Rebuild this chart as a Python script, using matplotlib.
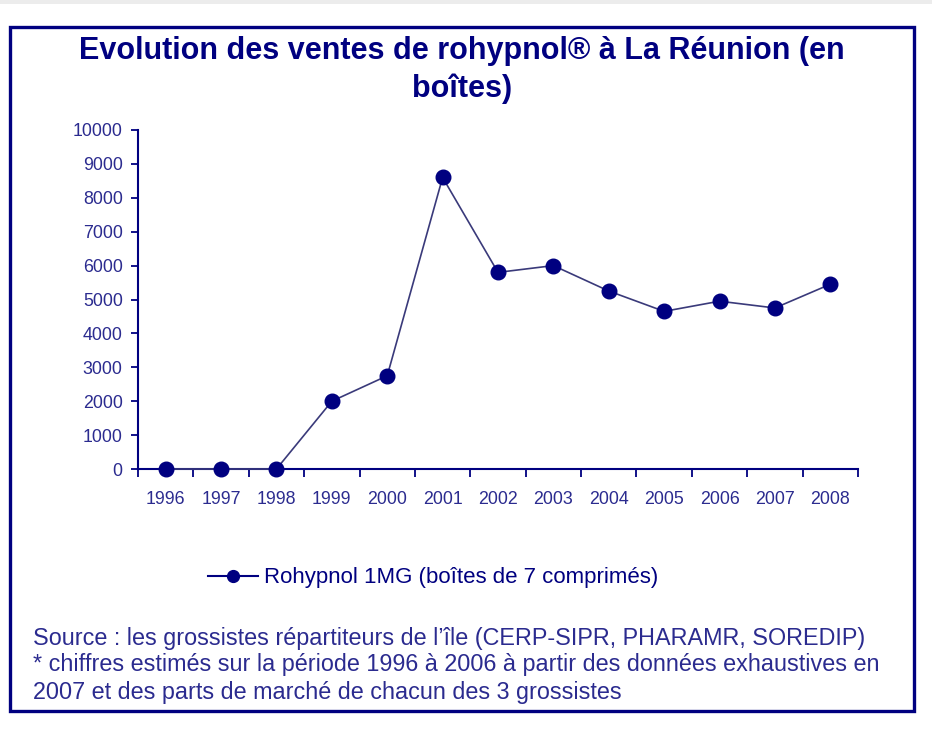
import matplotlib.pyplot as plt
from matplotlib.patches import Rectangle
from matplotlib.lines import Line2D

years = ['1996', '1997', '1998', '1999', '2000', '2001', '2002',
         '2003', '2004', '2005', '2006', '2007', '2008']
boites = [0, 0, 0, 2000, 2750, 8600, 5800, 6000, 5250, 4650, 4950, 4750, 5450]
y_ticks = [0, 1000, 2000, 3000, 4000, 5000, 6000, 7000, 8000, 9000, 10000]

title = "Evolution des ventes de rohypnol® à La Réunion (en\nboîtes)"
legend_label = "Rohypnol 1MG (boîtes de 7 comprimés)"
source_lines = [
    "Source : les grossistes répartiteurs de l\u2019île (CERP-SIPR, PHARAMR, SOREDIP)",
    "* chiffres estimés sur la période 1996 à 2006 à partir des données exhaustives en",
    "2007 et des parts de marché de chacun des 3 grossistes",
]

navy = '#000080'
text_blue = '#2b2b8f'
W, H = 932, 729

plt.rcParams['font.family'] = ['Liberation Sans', 'DejaVu Sans']

fig = plt.figure(figsize=(W / 100, H / 100), dpi=100)

# grey strip at top and the frame round the chart
fig.patches.append(Rectangle((0, 1 - 4 / H), 1, 4 / H, transform=fig.transFigure,
                             facecolor='#ececec', edgecolor='none'))
fig.patches.append(Rectangle((9.5 / W, 1 - 710.5 / H), 904 / W, 684 / H,
                             transform=fig.transFigure, facecolor='none',
                             edgecolor=navy, linewidth=2.4))

ax = fig.add_axes([138 / W, 1 - 469 / H, 720 / W, 339 / H])
x = range(len(years))
ax.plot(x, boites, color='#3a3a7a', linewidth=1.2, marker='o', markersize=10.5,
        markerfacecolor=navy, markeredgecolor=navy, clip_on=False, zorder=3)

ax.set_xlim(-0.5, len(years) - 0.5)
ax.set_ylim(0, 10000)
ax.set_yticks(y_ticks)
ax.set_yticklabels([str(v) for v in y_ticks])
ax.set_xticks([i - 0.5 for i in range(len(years) + 1)])
ax.set_xticklabels([])
ax.set_xticks(list(x), minor=True)
ax.set_xticklabels(years, minor=True)
ax.tick_params(axis='x', which='minor', length=0, pad=16, labelsize=12.8, labelcolor=text_blue)
ax.tick_params(axis='x', which='major', length=6, width=1.3, color=navy, direction='out')
ax.tick_params(axis='y', length=5, width=1.3, color=navy, labelsize=12.8,
               labelcolor=text_blue, pad=6)
for s in ['top', 'right']:
    ax.spines[s].set_visible(False)
for s in ['left', 'bottom']:
    ax.spines[s].set_color(navy)
    ax.spines[s].set_linewidth(1.5)

fig.text(462 / W, 1 - 70 / H, title, ha='center', va='center', fontsize=22,
         fontweight='bold', color=navy, linespacing=1.3)

# legend drawn as a figure-level handle
handle = Line2D([], [], color=navy, linewidth=1.5, marker='o', markersize=8.5,
                markerfacecolor=navy, markeredgecolor=navy)
fig.legend([handle], [legend_label], loc='center left',
           bbox_to_anchor=(208 / W, 1 - 578 / H), frameon=False, fontsize=16,
           labelcolor=navy, handlelength=2.25, handletextpad=0.25,
           borderaxespad=0, borderpad=0)

for i, line in enumerate(source_lines):
    fig.text(33 / W, 1 - (638 + 27 * i) / H, line, ha='left', va='center',
             fontsize=16.8, color=text_blue)

fig.savefig('out.png', dpi=100)
